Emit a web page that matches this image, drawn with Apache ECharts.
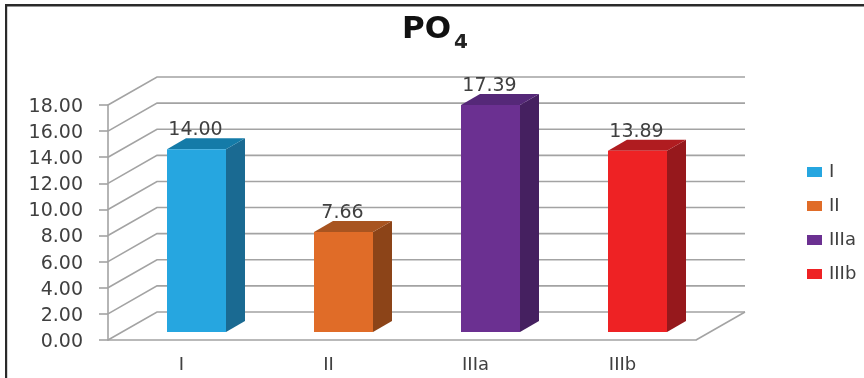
<!DOCTYPE html>
<html>
<head>
<meta charset="utf-8">
<style>html,body{margin:0;padding:0;background:#fff}#chart{width:864px;height:378px}</style>
<script src="https://cdn.jsdelivr.net/npm/echarts@6/dist/echarts.min.js"></script>
</head>
<body>
<div id="chart"></div>
<script>
// Phosphate levels by group, drawn as extruded columns on a receding floor and wall.
const categories = ['I', 'II', 'IIIa', 'IIIb'];
const values = [14.00, 7.66, 17.39, 13.89];
const yTicks = [0, 2, 4, 6, 8, 10, 12, 14, 16, 18];
const faceColors = ['#26a6e0', '#e06c28', '#6b3091', '#ee2224'];
const topColors = ['#147ba8', '#a85420', '#552878', '#b01c20'];
const sideColors = ['#1a6a92', '#8c4418', '#452060', '#96181c'];

const FONT = '"DejaVu Sans"';
const TEXT = '#404040';
const GRID = '#a3a3a3';
const WALL = [49, -28];       // how far the back wall sits from the front plane
const BAR_INSET = [15, -8];   // column front face, relative to the front plane
const BAR_DEPTH = [19, -11];
const BAR_W = 59;

const pts = (...p) => p;

// Wall grid lines and the floor outline, one polyline per tick.
function renderWall(params, api) {
  const v = api.value(0);
  const a = api.coord([0, v]);
  const x0 = params.coordSys.x, x1 = x0 + params.coordSys.width;
  const y = a[1];
  const children = [{
    type: 'polyline',
    shape: { points: pts([x0, y], [x0 + WALL[0], y + WALL[1]], [x1 + WALL[0], y + WALL[1]]) },
    style: { stroke: GRID, lineWidth: 1.6, fill: null }
  }];
  if (v === 0) {
    children.push({
      type: 'line',
      shape: { x1: x1, y1: y, x2: x1 + WALL[0], y2: y + WALL[1] },
      style: { stroke: GRID, lineWidth: 1.6 }
    });
  }
  return { type: 'group', children };
}

// One extruded column plus its value label.
function renderColumn(i) {
  return function (params, api) {
    const cx = api.coord([api.value(0), 0])[0];
    const base = api.coord([api.value(0), 0])[1];
    const top = api.coord([api.value(0), api.value(1)])[1];
    const l = cx - BAR_W / 2 + BAR_INSET[0], r = l + BAR_W;
    const b = base + BAR_INSET[1], t = top + BAR_INSET[1];
    const dx = BAR_DEPTH[0], dy = BAR_DEPTH[1];
    return {
      type: 'group',
      children: [
        { type: 'polygon', shape: { points: pts([r, t], [r + dx, t + dy], [r + dx, b + dy], [r, b]) }, style: { fill: sideColors[i] } },
        { type: 'polygon', shape: { points: pts([l, t], [l + dx, t + dy], [r + dx, t + dy], [r, t]) }, style: { fill: topColors[i] } },
        { type: 'rect', shape: { x: l, y: t, width: BAR_W, height: b - t }, style: { fill: faceColors[i] } },
        {
          type: 'text',
          style: {
            x: (l + r) / 2 - 1, y: t - 19,
            text: api.value(1).toFixed(2),
            textAlign: 'center', textVerticalAlign: 'middle',
            font: '19px ' + FONT, fill: TEXT
          }
        }
      ]
    };
  };
}

const wallSeries = {
  type: 'custom',
  coordinateSystem: 'cartesian2d',
  silent: true,
  z: 1,
  data: yTicks.map(t => [t]),
  encode: { y: 0 },
  renderItem: renderWall
};

const columnSeries = categories.map((name, i) => ({
  type: 'custom',
  name,
  coordinateSystem: 'cartesian2d',
  z: 3 + i,
  itemStyle: { color: faceColors[i] },
  data: [[i, values[i]]],
  encode: { x: 0, y: 1 },
  renderItem: renderColumn(i)
}));

const chart = echarts.init(document.getElementById('chart'), null, { renderer: 'canvas' });
chart.setOption({
  animation: false,
  backgroundColor: '#fff',
  title: {
    text: '{m|PO}{s|4}',
    left: 397, top: 9,
    textStyle: {
      rich: {
        m: { fontFamily: FONT, fontWeight: 'bold', fontSize: 31, color: '#111', verticalAlign: 'top', padding: [0, 0, 8, 0] },
        s: { fontFamily: FONT, fontWeight: 'bold', fontSize: 20, color: '#222', verticalAlign: 'bottom', padding: [0, 0, 0, 3] }
      }
    }
  },
  legend: {
    data: categories,
    orient: 'vertical',
    left: 802, top: 158,
    itemWidth: 15, itemHeight: 10, itemGap: 16,
    icon: 'rect',
    textStyle: { fontFamily: FONT, fontSize: 18, color: TEXT, padding: [0, 0, 0, 2] }
  },
  grid: { left: 108, top: 105, width: 588, height: 235, containLabel: false },
  xAxis: {
    type: 'category',
    data: categories,
    boundaryGap: true,
    axisLine: { show: true, lineStyle: { color: GRID, width: 1.6 } },
    axisTick: { show: false },
    axisLabel: { fontFamily: FONT, fontSize: 18, color: TEXT, margin: 16 }
  },
  yAxis: {
    type: 'value',
    min: 0, max: 18, interval: 2,
    axisLine: { show: true, lineStyle: { color: GRID, width: 1.6 } },
    axisTick: { show: true, length: 9, lineStyle: { color: GRID, width: 1.6 } },
    axisLabel: { fontFamily: FONT, fontSize: 19, color: TEXT, margin: 25, verticalAlign: 'top', lineHeight: 4, formatter: v => v.toFixed(2) },
    splitLine: { show: false }
  },
  graphic: [
    { type: 'rect', shape: { x: 5, y: 4, width: 2.2, height: 374 }, style: { fill: '#2a2a2a' }, z: 10 },
    { type: 'rect', shape: { x: 5, y: 4, width: 859, height: 2.6 }, style: { fill: '#2a2a2a' }, z: 10 }
  ],
  series: [wallSeries, ...columnSeries]
});
</script>
</body>
</html>
